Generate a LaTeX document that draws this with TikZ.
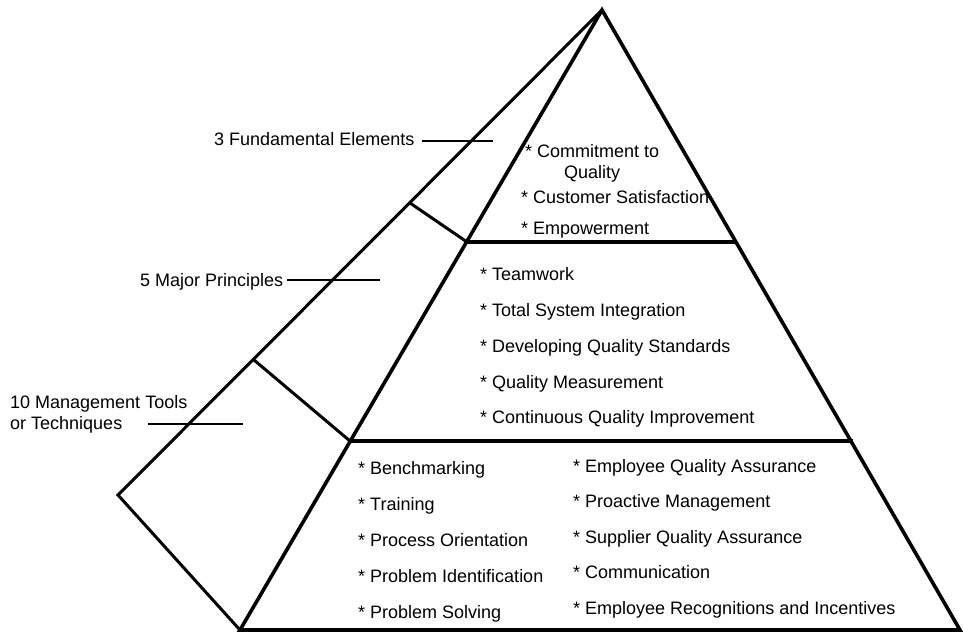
\documentclass[tikz,border=0pt]{standalone}
\usepackage{fontspec}
\setmainfont{Liberation Sans}
\begin{document}
\begin{tikzpicture}[x=1pt,y=-1pt,
  txt/.style={anchor=base west,inner sep=0pt,font=\fontsize{18}{21.6}\selectfont},
  front/.style={line width=3.6pt,line join=miter,line cap=butt},
  back/.style={line width=3pt,line join=miter},
  divider/.style={line width=3.4pt},
  leader/.style={line width=2pt}]
\useasboundingbox (0,0) rectangle (963,632);
% pyramid corners
\coordinate (A) at (602,10);
\coordinate (BL) at (240,630);
\coordinate (BR) at (960,630);
\coordinate (L) at (118,495);
% divider ends
\coordinate (D1l) at (467,242);
\coordinate (D1r) at (737,242);
\coordinate (D2l) at (350,441);
\coordinate (D2r) at (853,441);
\coordinate (S1) at (410,203);
\coordinate (S2) at (254,360);
% outline
\draw[back] (A) -- (L) -- (BL);
\draw[front] (A) -- (BL) -- (BR) -- cycle;
\draw[divider] (D1l) -- (D1r);
\draw[divider] (D2l) -- (D2r);
\draw[back] (S1) -- (D1l);
\draw[back] (S2) -- (D2l);
% labels
\node[txt] (l1) at (214,145) {3 Fundamental Elements};
\node[txt] (l2) at (140,286) {5 Major Principles};
\node[txt] (l3a) at (10,408) {10 Management Tools};
\node[txt] (l3b) at (10,429) {or Techniques};
\coordinate (e1) at (422,141);
\coordinate (f1) at (493,141);
\coordinate (e2) at (287,280);
\coordinate (f2) at (380,280);
\coordinate (e3) at (148,424);
\coordinate (f3) at (243,424);
\draw[leader] (e1) -- (f1);
\draw[leader] (e2) -- (f2);
\draw[leader] (e3) -- (f3);
% top section
\node[txt] (t1) at (525,157) {* Commitment to};
\node[txt] (t1b) at (564,178) {Quality};
\node[txt] (t2) at (521,203) {* Customer Satisfaction};
\node[txt] (t3) at (521,234) {* Empowerment};
% middle section
\node[txt] (m1) at (480,280) {* Teamwork};
\node[txt] (m2) at (480,316) {* Total System Integration};
\node[txt] (m3) at (480,352.5) {* Developing Quality Standards};
\node[txt] (m4) at (480,388.5) {* Quality Measurement};
\node[txt] (m5) at (480,423.5) {* Continuous Quality Improvement};
% bottom left
\node[txt] (b1) at (358,474) {* Benchmarking};
\node[txt] (b2) at (358,510) {* Training};
\node[txt] (b3) at (358,546) {* Process Orientation};
\node[txt] (b4) at (358,582) {* Problem Identification};
\node[txt] (b5) at (358,618) {* Problem Solving};
% bottom right
\node[txt] (c1) at (573,472) {* Employee Quality Assurance};
\node[txt] (c2) at (573,507) {* Proactive Management};
\node[txt] (c3) at (573,543) {* Supplier Quality Assurance};
\node[txt] (c4) at (573,578) {* Communication};
\node[txt] (c5) at (573,614) {* Employee Recognitions and Incentives};
\end{tikzpicture}
\end{document}
